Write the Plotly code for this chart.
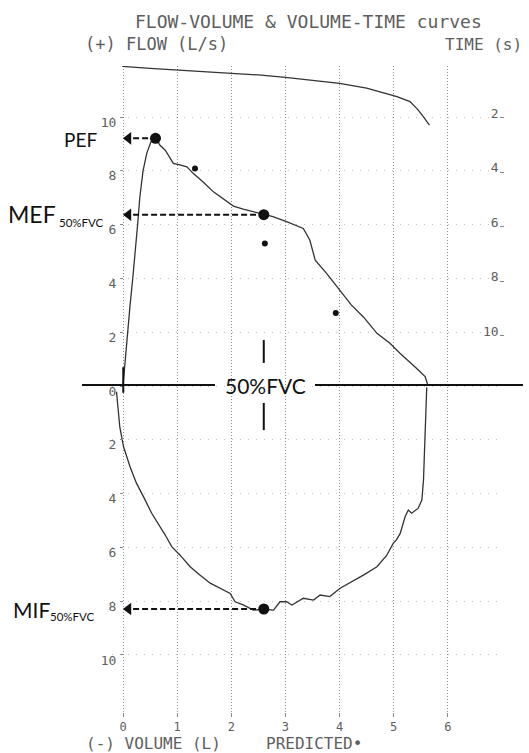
import plotly.graph_objects as go

# ---------------- data ----------------
exp_volume = [0.00, 0.02, 0.06, 0.09, 0.13, 0.18, 0.23, 0.27, 0.31, 0.37, 0.44, 0.52, 0.60,
              0.68, 0.78, 0.87, 0.93, 1.05, 1.18, 1.30, 1.48, 1.67, 1.85, 2.04, 2.22, 2.47,
              2.60, 2.77, 3.02, 3.33, 3.45, 3.55, 3.76, 4.01, 4.22, 4.44, 4.69, 4.93, 5.12,
              5.42, 5.58, 5.63]
exp_flow = [0.00, 0.50, 1.30, 2.00, 3.00, 4.00, 5.00, 6.00, 7.00, 8.00, 8.66, 9.10, 9.25,
            8.96, 8.77, 8.46, 8.28, 8.22, 8.15, 7.90, 7.59, 7.22, 6.97, 6.69, 6.58, 6.44,
            6.38, 6.30, 6.11, 5.86, 5.43, 4.68, 4.19, 3.57, 3.01, 2.57, 1.96, 1.59, 1.21,
            0.66, 0.35, 0.04]

insp_volume = [5.61, 5.60, 5.58, 5.55, 5.52, 5.45, 5.33, 5.27, 5.21, 5.12, 5.05, 4.99, 4.87,
               4.69, 4.44, 4.19, 4.01, 3.82, 3.64, 3.52, 3.33, 3.12, 3.02, 2.90, 2.78, 2.60,
               2.41, 2.22, 2.07, 1.98, 1.79, 1.61, 1.42, 1.24, 1.05, 0.90, 0.78, 0.65, 0.53,
               0.38, 0.25, 0.13, 0.01, -0.06, -0.10, -0.12]
insp_flow = [-0.05, -0.65, -2.26, -3.49, -4.24, -4.55, -4.73, -4.61, -4.86, -5.48, -5.72, -5.85,
             -6.30, -6.72, -7.03, -7.33, -7.52, -7.83, -7.77, -7.96, -7.89, -8.14, -8.02, -8.02,
             -8.33, -8.30, -8.33, -8.14, -8.02, -7.71, -7.52, -7.33, -7.03, -6.72, -6.28, -5.97,
             -5.54, -5.10, -4.73, -4.12, -3.62, -3.00, -2.26, -1.51, -0.77, -0.21]

vt_volume = [0.00, 0.00, 0.50, 1.00, 1.50, 2.00, 2.50, 3.00, 3.50, 4.00, 4.50, 4.75, 4.96,
             5.06, 5.30, 5.45, 5.55, 5.66]
vt_time = [0.02, 0.11, 0.18, 0.24, 0.29, 0.34, 0.42, 0.51, 0.61, 0.73, 0.90, 1.04, 1.16,
           1.22, 1.40, 1.70, 1.96, 2.26]

pred_volume = [1.33, 2.62, 3.93]
pred_flow = [8.09, 5.30, 2.72]

key_labels = ["PEF", "MEF", "MIF"]
key_sub = ["", "50%FVC", "50%FVC"]
key_volume = [0.60, 2.60, 2.60]
key_flow = [9.21, 6.37, -8.29]

flow_ticks = [-10, -8, -6, -4, -2, 0, 2, 4, 6, 8, 10]
flow_ticktext = ["10", "8", "6", "4", "2", "0", "2", "4", "6", "8", "10"]
vol_ticks = [0, 1, 2, 3, 4, 5, 6, 7]
vol_ticktext = ["0", "1", "2", "3", "4", "5", "6", ""]
time_ticks = [2, 4, 6, 8, 10]

# ---------------- layout geometry ----------------
W, H = 529, 753
S = 54.14                    # px per litre
X0_PX, X7_PX = 123, 502
ML, MR, MT, MB = 112, 25, 66, 41
X_RANGE = [-(X0_PX - ML) / S, 7 + (W - MR - X7_PX) / S]
Y_RANGE = [-12.12, 11.90]
T_RANGE = [23.80, 0.092]

PW = W - ML - MR
PH = H - MT - MB


def px_x(px):
    return (px - ML) / PW


def px_y(py):
    return (H - MB - py) / PH


def flow_paper(f):
    return (f - Y_RANGE[0]) / (Y_RANGE[1] - Y_RANGE[0])


MONO = "DejaVu Sans Mono"
SANS = "Lato"
GREY = "#5e5e5e"
INK = "#111"

fig = go.Figure()

# expiratory / inspiratory curves
fig.add_trace(go.Scatter(x=exp_volume, y=exp_flow, mode="lines",
                         line=dict(color="#333", width=1.3), hoverinfo="skip"))
fig.add_trace(go.Scatter(x=insp_volume, y=insp_flow, mode="lines",
                         line=dict(color="#333", width=1.3), hoverinfo="skip"))
# volume-time curve on the time axis
fig.add_trace(go.Scatter(x=vt_volume, y=vt_time, mode="lines", yaxis="y2",
                         line=dict(color="#333", width=1.3), hoverinfo="skip"))

# dashed arrows to flow axis
for v, f in zip(key_volume, key_flow):
    fig.add_trace(go.Scatter(x=[0.02, v], y=[f, f], mode="lines",
                             line=dict(color=INK, width=2, dash="6px,3px"),
                             hoverinfo="skip"))
    fig.add_trace(go.Scatter(x=[0.10], y=[f], mode="markers",
                             marker=dict(symbol="triangle-left", size=11, color=INK),
                             hoverinfo="skip"))

# predicted points
fig.add_trace(go.Scatter(x=pred_volume, y=pred_flow, mode="markers",
                         marker=dict(size=6, color=INK), hoverinfo="skip"))
# key points
fig.add_trace(go.Scatter(x=key_volume, y=key_flow, mode="markers",
                         marker=dict(size=11, color=INK), hoverinfo="skip"))

# 50%FVC annotation lines
zero_p = flow_paper(0) + 0.0015
shapes = [
    dict(type="line", xref="paper", yref="paper", x0=px_x(82), x1=px_x(215),
         y0=zero_p, y1=zero_p, line=dict(color=INK, width=2)),
    dict(type="line", xref="paper", yref="paper", x0=px_x(315), x1=px_x(523),
         y0=zero_p, y1=zero_p, line=dict(color=INK, width=2)),
    dict(type="line", xref="x", yref="y", x0=2.6, x1=2.6, y0=0.86, y1=1.71,
         line=dict(color=INK, width=2)),
    dict(type="line", xref="x", yref="y", x0=2.6, x1=2.6, y0=-0.63, y1=-1.64,
         line=dict(color=INK, width=2)),
    dict(type="line", xref="x", yref="y", x0=0.005, x1=0.005, y0=-0.25, y1=0.7,
         line=dict(color=INK, width=2)),
]


def note(text, x, y, xa, size, family, color, ya="middle"):
    return dict(text=text, x=px_x(x), y=px_y(y), xref="paper", yref="paper",
                showarrow=False, xanchor=xa, yanchor=ya,
                font=dict(family=family, size=size, color=color))


annotations = [
    note("FLOW-VOLUME &amp; VOLUME-TIME curves", 308, 21, "center", 18, MONO, GREY),
    note("(+) FLOW (L/s)", 83, 44, "left", 17, MONO, GREY),
    note("TIME (s)", 524, 44, "right", 16, MONO, GREY),
    note("(-) VOLUME (L)", 84, 744, "left", 16, MONO, GREY),
    note("PREDICTED\u2022", 264, 744, "left", 16, MONO, GREY),
    note(key_labels[0], 99, 139, "right", 19, SANS, INK),
    note(key_labels[1], 6, 214, "left", 23, SANS, INK),
    note(key_sub[1], 57, 222, "left", 11.5, SANS, INK),
    note(key_labels[2], 11, 609, "left", 21, SANS, INK),
    note(key_sub[2], 48, 616, "left", 11.5, SANS, INK),
    note("50%FVC", 265, 385, "center", 21, SANS, INK),
]

fig.update_layout(
    width=W, height=H,
    margin=dict(l=ML, r=MR, t=MT, b=MB, pad=0),
    paper_bgcolor="white", plot_bgcolor="white",
    showlegend=False,
    shapes=shapes, annotations=annotations,
    xaxis=dict(range=X_RANGE, tickvals=vol_ticks, ticktext=vol_ticktext,
               showgrid=True, gridcolor="#8a8a8a", gridwidth=1, griddash="1px,2px",
               zeroline=False, showline=False, ticks="outside", ticklen=4,
               tickcolor="#888", tickfont=dict(family=MONO, size=12, color=GREY),
               fixedrange=True),
    yaxis=dict(range=Y_RANGE, tickvals=flow_ticks, ticktext=flow_ticktext,
               anchor="free", position=px_x(X0_PX),
               showgrid=True, gridcolor="#c4c4c4", gridwidth=1, griddash="1px,7px",
               zeroline=False, showline=False, ticks="outside", ticklen=3,
               tickcolor="#888", ticklabelshift=5, ticklabelstandoff=1,
               tickfont=dict(family=MONO, size=13, color=GREY), fixedrange=True),
    yaxis2=dict(range=T_RANGE, overlaying="y", side="right", anchor="x",
                tickvals=time_ticks, showgrid=False, zeroline=False, showline=False,
                ticks="inside", ticklen=4, tickcolor="#888",
                ticklabelposition="inside", ticklabelshift=5, ticklabelstandoff=1,
                tickfont=dict(family=MONO, size=13, color=GREY), fixedrange=True),
)

fig.write_html("out.html")
